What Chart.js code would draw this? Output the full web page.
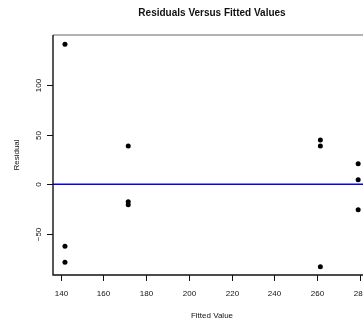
<!DOCTYPE html>
<html>
<head>
<meta charset="utf-8">
<script src="https://cdn.jsdelivr.net/npm/chart.js@4/dist/chart.umd.min.js"></script>
<style>
  html, body { margin: 0; padding: 0; background: #fff; overflow: hidden; }
  #wrap { width: 400px; height: 324px; }
</style>
</head>
<body>
<div id="wrap"><canvas id="c" width="400" height="324"></canvas></div>
<script>
// Fitted values and residuals from the regression
const fittedValues = [142.0, 142.0, 142.0, 171.6, 171.6, 171.6, 261.5, 261.5, 261.5, 279.2, 279.2, 279.2];
const residuals    = [140.8, -62.4, -78.5, 38.5, -17.6, -20.6, 44.6, 38.5, -82.9, 20.7, 4.6, -25.6];

const xTicks = [140, 160, 180, 200, 220, 240, 260, 280];
const yTicks = [-50, 0, 50, 100];

const titleText = 'Residuals Versus Fitted Values';
const xLabel = 'Fitted Value';
const yLabel = 'Residual';
const referenceLevel = 0;

const FONT = '"Liberation Sans", Arial, Helvetica, sans-serif';

// Base-graphics style frame, axes, reference line and titles
const baseAxes = {
  id: 'baseAxes',
  beforeDatasetsDraw(chart) {
    const { ctx, chartArea: a, scales: { x, y } } = chart;
    ctx.save();
    // horizontal reference line
    const y0 = y.getPixelForValue(referenceLevel);
    ctx.strokeStyle = '#0000ff';
    ctx.lineWidth = 1.5;
    ctx.beginPath();
    ctx.moveTo(a.left, y0);
    ctx.lineTo(a.right, y0);
    ctx.stroke();
    ctx.restore();
  },
  afterDraw(chart) {
    const { ctx, chartArea: a, scales: { x, y } } = chart;
    ctx.save();
    // frame
    ctx.strokeStyle = '#666';
    ctx.lineWidth = 1;
    ctx.beginPath();
    ctx.moveTo(a.left, a.top);
    ctx.lineTo(a.right, a.top);
    ctx.stroke();
    ctx.strokeStyle = '#111';
    ctx.lineWidth = 1.4;
    ctx.beginPath();
    ctx.moveTo(a.left, a.top);
    ctx.lineTo(a.left, a.bottom);
    ctx.lineTo(a.right, a.bottom);
    ctx.lineTo(a.right, a.top);
    ctx.stroke();

    // x axis ticks and labels
    ctx.lineWidth = 1;
    ctx.strokeStyle = '#111';
    ctx.fillStyle = '#111';
    ctx.font = '8px ' + FONT;
    ctx.textAlign = 'center';
    ctx.textBaseline = 'middle';
    xTicks.forEach(v => {
      const px = Math.round(x.getPixelForValue(v)) + 0.5;
      ctx.beginPath();
      ctx.moveTo(px, a.bottom);
      ctx.lineTo(px, a.bottom + 6);
      ctx.stroke();
      ctx.fillText(String(v), px, a.bottom + 19);
    });

    // y axis ticks and rotated labels
    yTicks.forEach(v => {
      const py = Math.round(y.getPixelForValue(v)) + 0.5;
      ctx.beginPath();
      ctx.moveTo(a.left, py);
      ctx.lineTo(a.left - 6, py);
      ctx.stroke();
      ctx.save();
      ctx.translate(a.left - 14, py);
      ctx.rotate(-Math.PI / 2);
      ctx.fillText(v < 0 ? '\u2212' + Math.abs(v) : String(v), 0, 0);
      ctx.restore();
    });

    // axis titles
    ctx.fillText(xLabel, (a.left + a.right) / 2, a.bottom + 41);
    ctx.save();
    ctx.translate(a.left - 36, (a.top + a.bottom) / 2);
    ctx.rotate(-Math.PI / 2);
    ctx.fillText(yLabel, 0, 0);
    ctx.restore();

    // main title
    ctx.font = 'bold 10px ' + FONT;
    ctx.fillText(titleText, (a.left + a.right) / 2, 13);
    ctx.restore();
  }
};

new Chart(document.getElementById('c'), {
  type: 'scatter',
  data: {
    datasets: [{
      data: fittedValues.map((fv, i) => ({ x: fv, y: residuals[i] })),
      backgroundColor: '#000',
      borderColor: '#000',
      pointRadius: 2.5,
      pointHoverRadius: 2.5,
      borderWidth: 0
    }]
  },
  options: {
    responsive: false,
    animation: false,
    events: [],
    layout: { padding: { left: 53, top: 35, right: 29, bottom: 49 } },
    plugins: { legend: { display: false }, tooltip: { enabled: false } },
    scales: {
      x: { type: 'linear', min: 136.4, max: 285.2, display: false },
      y: { type: 'linear', min: -91.2, max: 150.2, display: false }
    }
  },
  plugins: [baseAxes]
});
</script>
</body>
</html>
